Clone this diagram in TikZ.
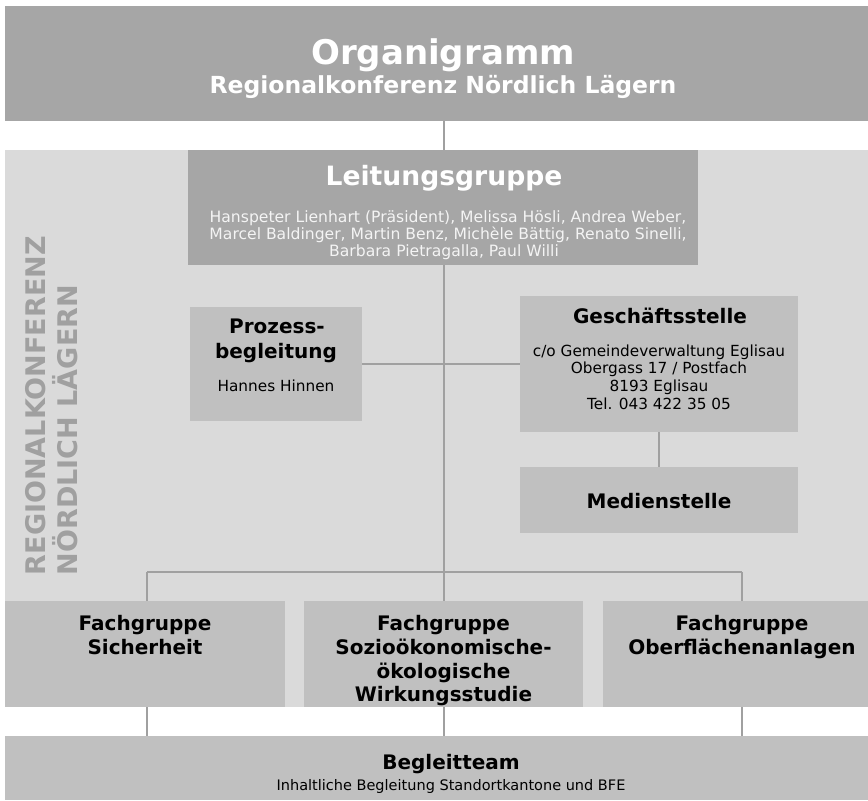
\documentclass[tikz,border=0pt]{standalone}
\usepackage{fontspec}
\setmainfont{DejaVu Sans}
\definecolor{darkbox}{HTML}{A6A6A6}
\definecolor{midbox}{HTML}{C0C0C0}
\definecolor{lightbg}{HTML}{DADADA}
\definecolor{linecol}{HTML}{A0A0A0}
\definecolor{vtext}{HTML}{A0A0A0}
\definecolor{nametext}{HTML}{F4F4F4}
\tikzset{
  box/.style={draw=none, inner sep=0pt, outer sep=0pt},
  darkb/.style={box, fill=darkbox},
  midb/.style={box, fill=midbox},
  conn/.style={draw=linecol, line width=2pt},
  txt/.style={inner sep=0pt, outer sep=0pt, anchor=base, align=center},
  hbold/.style={txt, font=\bfseries\fontsize{20}{24}\selectfont},
  small/.style={txt, font=\fontsize{15.3}{18}\selectfont},
}
\begin{document}
\begin{tikzpicture}[x=1pt, y=-1pt]
\useasboundingbox (0,0) rectangle (868,801);
\fill[white] (0,0) rectangle (868,801);
% light background region
\fill[lightbg] (5,150) rectangle (868,707);

% boxes
\node[darkb, minimum width=863pt, minimum height=115pt] (title) at (436.5,63.5) {};
\node[darkb, minimum width=510pt, minimum height=115pt] (leit) at (443,207.5) {};
\node[midb, minimum width=172pt, minimum height=114pt] (proz) at (276,364) {};
\node[midb, minimum width=278pt, minimum height=136pt] (gesch) at (659,364) {};
\node[midb, minimum width=278pt, minimum height=66pt] (medien) at (659,500) {};
\node[midb, minimum width=280pt, minimum height=106pt] (fach1) at (145,654) {};
\node[midb, minimum width=279pt, minimum height=106pt] (fach2) at (443.5,654) {};
\node[midb, minimum width=265pt, minimum height=106pt] (fach3) at (735.5,654) {};
\node[midb, minimum width=863pt, minimum height=64pt] (begl) at (436.5,768) {};

% connector coordinates
\coordinate (barC) at (444,572);
\coordinate (barL) at (147,572);
\coordinate (barR) at (742,572);

% connectors
\draw[conn] (title.south -| barC) -- (leit.north -| barC);
\draw[conn] (leit.south -| barC) -- (barC);
\draw[conn] (barL) -- (barR);
\draw[conn] (barL) -- (fach1.north -| barL);
\draw[conn] (barC) -- (fach2.north -| barC);
\draw[conn] (barR) -- (fach3.north -| barR);
\draw[conn] (proz.east) -- (gesch.west);
\draw[conn] (gesch.south) -- (medien.north);
\draw[conn] (fach1.south -| barL) -- (begl.north -| barL);
\draw[conn] (fach2.south -| barC) -- (begl.north -| barC);
\draw[conn] (fach3.south -| barR) -- (begl.north -| barR);

% title texts
\node[txt, text=white, font=\bfseries\fontsize{34}{40}\selectfont] (t1) at (443,64) {Organigramm};
\node[txt, text=white, font=\bfseries\fontsize{23.5}{28}\selectfont] (t2) at (443,93) {Regionalkonferenz Nördlich Lägern};

% Leitungsgruppe
\node[txt, text=white, font=\bfseries\fontsize{26.6}{30}\selectfont] (lt) at (444,185) {Leitungsgruppe};
\node[small, text=nametext, font=\fontsize{15.6}{18}\selectfont] (ln1) at (448,222) {Hanspeter Lienhart (Präsident), Melissa Hösli, Andrea Weber,};
\node[small, text=nametext, font=\fontsize{15.6}{18}\selectfont] (ln2) at (448,239) {Marcel Baldinger, Martin Benz, Michèle Bättig, Renato Sinelli,};
\node[small, text=nametext, font=\fontsize{15.6}{18}\selectfont] (ln3) at (444,256) {Barbara Pietragalla, Paul Willi};

% Prozessbegleitung
\node[hbold] (pt1) at (277,333) {Prozess-};
\node[hbold] (pt2) at (276,358) {begleitung};
\node[small] (pt3) at (276,391) {Hannes Hinnen};

% Geschaeftsstelle
\node[hbold] (gt) at (660,323) {Geschäftsstelle};
\node[small] (ga1) at (659,356) {c/o Gemeindeverwaltung Eglisau};
\node[small] (ga2) at (659,373.5) {Obergass 17 / Postfach};
\node[small] (ga3) at (659,391.5) {8193 Eglisau};
\node[small] (ga4) at (659,409) {Tel. 043 422 35 05};

% Medienstelle
\node[hbold] (mt) at (659,508) {Medienstelle};

% Fachgruppen
\node[hbold] (f1a) at (145,630) {Fachgruppe};
\node[hbold] (f1b) at (145,654) {Sicherheit};
\node[hbold] (f2a) at (443.5,630) {Fachgruppe};
\node[hbold] (f2b) at (443.5,654) {Sozioökonomische-};
\node[hbold] (f2c) at (443.5,678) {ökologische};
\node[hbold] (f2d) at (443.5,701) {Wirkungsstudie};
\node[hbold] (f3a) at (742,630) {Fachgruppe};
\node[hbold] (f3b) at (742,654) {Oberflächenanlagen};

% Begleitteam
\node[hbold] (bt) at (451,769) {Begleitteam};
\node[small, font=\fontsize{14.5}{17}\selectfont] (bs) at (451,790) {Inhaltliche Begleitung Standortkantone und BFE};

% vertical label
\node[inner sep=0pt, outer sep=0pt, rotate=90, anchor=north west, align=left, text=vtext,
      font=\bfseries\fontsize{27}{32}\selectfont] (vert) at (25,575) {REGIONALKONFERENZ\\NÖRDLICH LÄGERN};
\end{tikzpicture}
\end{document}
